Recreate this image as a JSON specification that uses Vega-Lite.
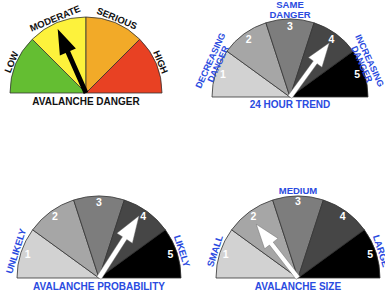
{
  "$schema": "https://vega.github.io/schema/vega-lite/v6.json",
  "padding": 0,
  "background": "white",
  "columns": 2,
  "spacing": {"column": 0, "row": 6},
  "bounds": "flush",
  "resolve": {"scale": {"color": "independent", "angle": "independent", "theta": "independent"}},
  "config": {"view": {"stroke": null}, "font": "Liberation Sans"},
  "concat": [
    {
      "width": 172, "height": 186,
      "layer": [
        {
          "data": {"values": [{"seg": "LOW", "a0": 0, "a1": 1}, {"seg": "MODERATE", "a0": 1, "a1": 2}, {"seg": "SERIOUS", "a0": 2, "a1": 3}, {"seg": "HIGH", "a0": 3, "a1": 4}]},
          "mark": {"type": "arc", "outerRadius": 76, "innerRadius": 0, "stroke": "#333", "strokeWidth": 0.8},
          "encoding": {
            "theta": {"field": "a0", "type": "quantitative", "stack": null, "scale": {"domain": [0, 4], "range": [-1.5707963, 1.5707963]}},
            "theta2": {"field": "a1"},
            "color": {"field": "seg", "type": "nominal", "legend": null, "scale": {"domain": ["LOW", "MODERATE", "SERIOUS", "HIGH"], "range": ["#64be32", "#fdf23c", "#f2aa28", "#e84123"]}}
          }
        },
        {
          "data": {"values": [{"label": "LOW", "pos": 0.5}, {"label": "MODERATE", "pos": 1.5}, {"label": "SERIOUS", "pos": 2.5}, {"label": "HIGH", "pos": 3.5}]},
          "mark": {"type": "text", "radius": 80.5, "font": "Liberation Sans", "fontWeight": "bold", "fontSize": 9.5, "color": "#111", "align": "center", "baseline": "middle"},
          "encoding": {
            "theta": {"field": "pos", "type": "quantitative", "stack": null, "scale": {"domain": [0, 4], "range": [-1.5707963, 1.5707963]}},
            "angle": {"field": "pos", "type": "quantitative", "scale": {"domain": [0, 4], "range": [-90, 90]}},
            "text": {"field": "label"}
          }
        },
        {
          "data": {"values": [{"title": "AVALANCHE DANGER"}]},
          "mark": {"type": "text", "dy": 8.6, "font": "Liberation Sans", "fontWeight": "bold", "fontSize": 10, "color": "#111", "align": "center", "baseline": "middle"},
          "encoding": {"text": {"field": "title"}}
        },
        {
          "data": {"values": [{"reading": 1.47}]},
          "mark": {"type": "point", "shape": "M-0.035,0L-0.035,-0.64L-0.125,-0.64L0,-1L0.125,-0.64L0.035,-0.64L0.035,0Z", "filled": true, "size": 19600, "color": "#000", "opacity": 1},
          "encoding": {"angle": {"field": "reading", "type": "quantitative", "scale": {"domain": [0, 4], "range": [-90, 90]}}}
        }
      ]
    },
    {
      "width": 184, "height": 194,
      "layer": [
        {
          "data": {"values": [{"seg": "1", "a0": 0, "a1": 1}, {"seg": "2", "a0": 1, "a1": 2}, {"seg": "3", "a0": 2, "a1": 3}, {"seg": "4", "a0": 3, "a1": 4}, {"seg": "5", "a0": 4, "a1": 5}]},
          "mark": {"type": "arc", "outerRadius": 78, "innerRadius": 0, "stroke": "#333", "strokeWidth": 0.8},
          "encoding": {
            "theta": {"field": "a0", "type": "quantitative", "stack": null, "scale": {"domain": [0, 5], "range": [-1.5707963, 1.5707963]}},
            "theta2": {"field": "a1"},
            "color": {"field": "seg", "type": "nominal", "legend": null, "scale": {"domain": ["1", "2", "3", "4", "5"], "range": ["#d2d2d2", "#a6a6a6", "#7d7d7d", "#464646", "#000000"]}}
          }
        },
        {
          "data": {"values": [{"num": "1", "pos": 0.5}, {"num": "2", "pos": 1.5}, {"num": "3", "pos": 2.5}, {"num": "4", "pos": 3.5}, {"num": "5", "pos": 4.5}]},
          "mark": {"type": "text", "radius": 70.5, "font": "Liberation Sans", "fontWeight": "bold", "fontSize": 10.5, "color": "#ffffff", "align": "center", "baseline": "middle"},
          "encoding": {
            "theta": {"field": "pos", "type": "quantitative", "stack": null, "scale": {"domain": [0, 5], "range": [-1.5707963, 1.5707963]}},
            "text": {"field": "num"}
          }
        },
        {
          "data": {"values": [{"label": "DECREASING\nDANGER", "pos": 0.683}, {"label": "INCREASING\nDANGER", "pos": 4.317}]},
          "mark": {"type": "text", "radius": 87.5, "lineBreak": "\n", "lineHeight": 8.5, "font": "Liberation Sans", "fontWeight": "bold", "fontSize": 9, "color": "#2a4be0", "align": "center", "baseline": "middle"},
          "encoding": {
            "theta": {"field": "pos", "type": "quantitative", "stack": null, "scale": {"domain": [0, 5], "range": [-1.5707963, 1.5707963]}},
            "angle": {"field": "pos", "type": "quantitative", "scale": {"domain": [0, 5], "range": [-90, 90]}},
            "text": {"field": "label"}
          }
        },
        {
          "data": {"values": [{"label": "SAME\nDANGER", "pos": 2.5}]},
          "mark": {"type": "text", "radius": 92, "lineBreak": "\n", "lineHeight": 9.5, "font": "Liberation Sans", "fontWeight": "bold", "fontSize": 9.5, "color": "#2a4be0", "align": "center", "baseline": "middle"},
          "encoding": {
            "theta": {"field": "pos", "type": "quantitative", "stack": null, "scale": {"domain": [0, 5], "range": [-1.5707963, 1.5707963]}},
            "angle": {"field": "pos", "type": "quantitative", "scale": {"domain": [0, 5], "range": [-90, 90]}},
            "text": {"field": "label"}
          }
        },
        {
          "data": {"values": [{"title": "24 HOUR TREND"}]},
          "mark": {"type": "text", "dy": 8.2, "font": "Liberation Sans", "fontWeight": "bold", "fontSize": 10, "color": "#2a4be0", "align": "center", "baseline": "middle"},
          "encoding": {"text": {"field": "title"}}
        },
        {
          "data": {"values": [{"reading": 3.5}]},
          "mark": {"type": "point", "shape": "M-0.035,0L-0.035,-0.64L-0.125,-0.64L0,-1L0.125,-0.64L0.035,-0.64L0.035,0Z", "filled": true, "size": 17956, "color": "#ffffff", "stroke": "#666", "strokeWidth": 0.4, "opacity": 1},
          "encoding": {"angle": {"field": "reading", "type": "quantitative", "scale": {"domain": [0, 5], "range": [-90, 90]}}}
        }
      ]
    },
    {
      "width": 198, "height": 156,
      "layer": [
        {
          "data": {"values": [{"seg": "1", "a0": 0, "a1": 1}, {"seg": "2", "a0": 1, "a1": 2}, {"seg": "3", "a0": 2, "a1": 3}, {"seg": "4", "a0": 3, "a1": 4}, {"seg": "5", "a0": 4, "a1": 5}]},
          "mark": {"type": "arc", "outerRadius": 82, "innerRadius": 0, "stroke": "#333", "strokeWidth": 0.8},
          "encoding": {
            "theta": {"field": "a0", "type": "quantitative", "stack": null, "scale": {"domain": [0, 5], "range": [-1.5707963, 1.5707963]}},
            "theta2": {"field": "a1"},
            "color": {"field": "seg", "type": "nominal", "legend": null, "scale": {"domain": ["1", "2", "3", "4", "5"], "range": ["#d2d2d2", "#a6a6a6", "#7d7d7d", "#464646", "#000000"]}}
          }
        },
        {
          "data": {"values": [{"num": "1", "pos": 0.5}, {"num": "2", "pos": 1.5}, {"num": "3", "pos": 2.5}, {"num": "4", "pos": 3.5}, {"num": "5", "pos": 4.5}]},
          "mark": {"type": "text", "radius": 75, "font": "Liberation Sans", "fontWeight": "bold", "fontSize": 10.5, "color": "#ffffff", "align": "center", "baseline": "middle"},
          "encoding": {
            "theta": {"field": "pos", "type": "quantitative", "stack": null, "scale": {"domain": [0, 5], "range": [-1.5707963, 1.5707963]}},
            "text": {"field": "num"}
          }
        },
        {
          "data": {"values": [{"label": "UNLIKELY", "pos": 0.5}, {"label": "LIKELY", "pos": 4.5}]},
          "mark": {"type": "text", "radius": 87, "font": "Liberation Sans", "fontWeight": "bold", "fontSize": 9.5, "color": "#2a4be0", "align": "center", "baseline": "middle"},
          "encoding": {
            "theta": {"field": "pos", "type": "quantitative", "stack": null, "scale": {"domain": [0, 5], "range": [-1.5707963, 1.5707963]}},
            "angle": {"field": "pos", "type": "quantitative", "scale": {"domain": [0, 5], "range": [-90, 90]}},
            "text": {"field": "label"}
          }
        },
        {
          "data": {"values": [{"title": "AVALANCHE PROBABILITY"}]},
          "mark": {"type": "text", "dy": 9, "font": "Liberation Sans", "fontWeight": "bold", "fontSize": 10, "color": "#2a4be0", "align": "center", "baseline": "middle"},
          "encoding": {"text": {"field": "title"}}
        },
        {
          "data": {"values": [{"reading": 3.41}]},
          "mark": {"type": "point", "shape": "M-0.035,0L-0.035,-0.64L-0.125,-0.64L0,-1L0.125,-0.64L0.035,-0.64L0.035,0Z", "filled": true, "size": 21904, "color": "#ffffff", "stroke": "#666", "strokeWidth": 0.4, "opacity": 1},
          "encoding": {"angle": {"field": "reading", "type": "quantitative", "scale": {"domain": [0, 5], "range": [-90, 90]}}}
        }
      ]
    },
    {
      "width": 200, "height": 156,
      "layer": [
        {
          "data": {"values": [{"seg": "1", "a0": 0, "a1": 1}, {"seg": "2", "a0": 1, "a1": 2}, {"seg": "3", "a0": 2, "a1": 3}, {"seg": "4", "a0": 3, "a1": 4}, {"seg": "5", "a0": 4, "a1": 5}]},
          "mark": {"type": "arc", "outerRadius": 82, "innerRadius": 0, "stroke": "#333", "strokeWidth": 0.8},
          "encoding": {
            "theta": {"field": "a0", "type": "quantitative", "stack": null, "scale": {"domain": [0, 5], "range": [-1.5707963, 1.5707963]}},
            "theta2": {"field": "a1"},
            "color": {"field": "seg", "type": "nominal", "legend": null, "scale": {"domain": ["1", "2", "3", "4", "5"], "range": ["#d2d2d2", "#a6a6a6", "#7d7d7d", "#464646", "#000000"]}}
          }
        },
        {
          "data": {"values": [{"num": "1", "pos": 0.5}, {"num": "2", "pos": 1.5}, {"num": "3", "pos": 2.5}, {"num": "4", "pos": 3.5}, {"num": "5", "pos": 4.5}]},
          "mark": {"type": "text", "radius": 76, "font": "Liberation Sans", "fontWeight": "bold", "fontSize": 10.5, "color": "#ffffff", "align": "center", "baseline": "middle"},
          "encoding": {
            "theta": {"field": "pos", "type": "quantitative", "stack": null, "scale": {"domain": [0, 5], "range": [-1.5707963, 1.5707963]}},
            "text": {"field": "num"}
          }
        },
        {
          "data": {"values": [{"label": "SMALL", "pos": 0.5}, {"label": "MEDIUM", "pos": 2.5}, {"label": "LARGE", "pos": 4.5}]},
          "mark": {"type": "text", "radius": 87, "font": "Liberation Sans", "fontWeight": "bold", "fontSize": 9.5, "color": "#2a4be0", "align": "center", "baseline": "middle"},
          "encoding": {
            "theta": {"field": "pos", "type": "quantitative", "stack": null, "scale": {"domain": [0, 5], "range": [-1.5707963, 1.5707963]}},
            "angle": {"field": "pos", "type": "quantitative", "scale": {"domain": [0, 5], "range": [-90, 90]}},
            "text": {"field": "label"}
          }
        },
        {
          "data": {"values": [{"title": "AVALANCHE SIZE"}]},
          "mark": {"type": "text", "dy": 9, "font": "Liberation Sans", "fontWeight": "bold", "fontSize": 10, "color": "#2a4be0", "align": "center", "baseline": "middle"},
          "encoding": {"text": {"field": "title"}}
        },
        {
          "data": {"values": [{"reading": 1.45}]},
          "mark": {"type": "point", "shape": "M-0.035,0L-0.035,-0.64L-0.125,-0.64L0,-1L0.125,-0.64L0.035,-0.64L0.035,0Z", "filled": true, "size": 18496, "color": "#ffffff", "stroke": "#666", "strokeWidth": 0.4, "opacity": 1},
          "encoding": {"angle": {"field": "reading", "type": "quantitative", "scale": {"domain": [0, 5], "range": [-90, 90]}}}
        }
      ]
    }
  ]
}
